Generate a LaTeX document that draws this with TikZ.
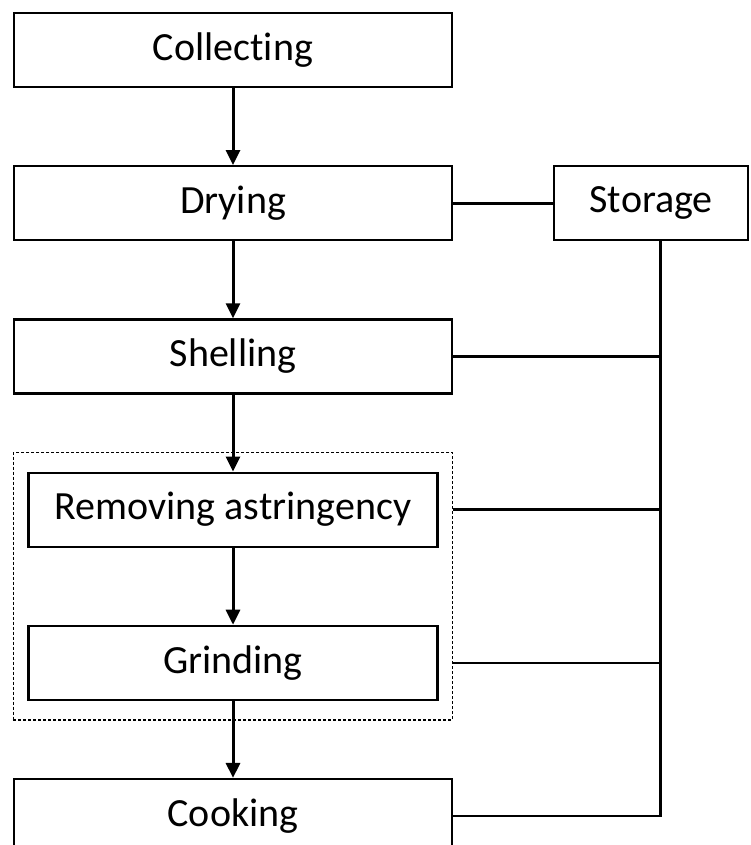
\documentclass[tikz,border=0pt]{standalone}
\usepackage{fontspec}
\setmainfont{Carlito}[Ligatures=NoCommon]
\usetikzlibrary{positioning, arrows.meta, fit}
\tikzset{node distance=77pt and 100pt, % gap between the process boxes
stepbox/.style={ % the wide process boxes
draw, line width=2.2pt,
minimum width=438pt, minimum height=74pt,
font=\fontsize{40}{48}\selectfont},
innerbox/.style={ % boxes inside the dashed group
stepbox, minimum width=409pt, minimum height=74pt},
storebox/.style={ % the storage box
stepbox, minimum width=194pt},
group/.style={ % dashed frame round two steps
draw, dash pattern=on 3pt off 2pt, line width=1.5pt,
inner xsep=14pt, inner ysep=19pt},
flow/.style={ % downward arrows
draw, line width=3pt, -{Triangle[length=15pt,width=14pt]}},
link/.style={ % lines to storage
draw, line width=2.6pt}}
\begin{document}
\begin{tikzpicture}[x=1pt, y=1pt]

    \useasboundingbox (0,0) rectangle (751,-845);

    \node[stepbox] (collect) at (233,-50) {Collecting};
    \node[stepbox, below=of collect] (dry) {Drying};
    \node[stepbox, below=of dry] (shell) {Shelling};
    \node[innerbox, below=of shell] (astr) {Removing astringency};
    \node[innerbox, below=of astr] (grind) {Grinding};
    \node[stepbox, below=of grind] (cook) {Cooking};
    \node[storebox, right=of dry] (store) {Storage};
    \node[group, fit=(astr)(grind)] (grp) {};

    \coordinate (tap) at ([xshift=9pt]store.south);

    \draw[flow] (collect) -- (dry);
    \draw[flow] (dry) -- (shell);
    \draw[flow] (shell) -- (astr);
    \draw[flow] (astr) -- (grind);
    \draw[flow] (grind) -- (cook);

    \draw[link] (dry) -- (store);
    \draw[link] (tap) |- (cook.east);
    \draw[link] (shell.east) -- (shell.east -| tap);
    \draw[link] (grp.east |- astr.east) -- (astr.east -| tap);
    \draw[link] (grp.east |- grind.east) -- (grind.east -| tap);

\end{tikzpicture}
\end{document}
